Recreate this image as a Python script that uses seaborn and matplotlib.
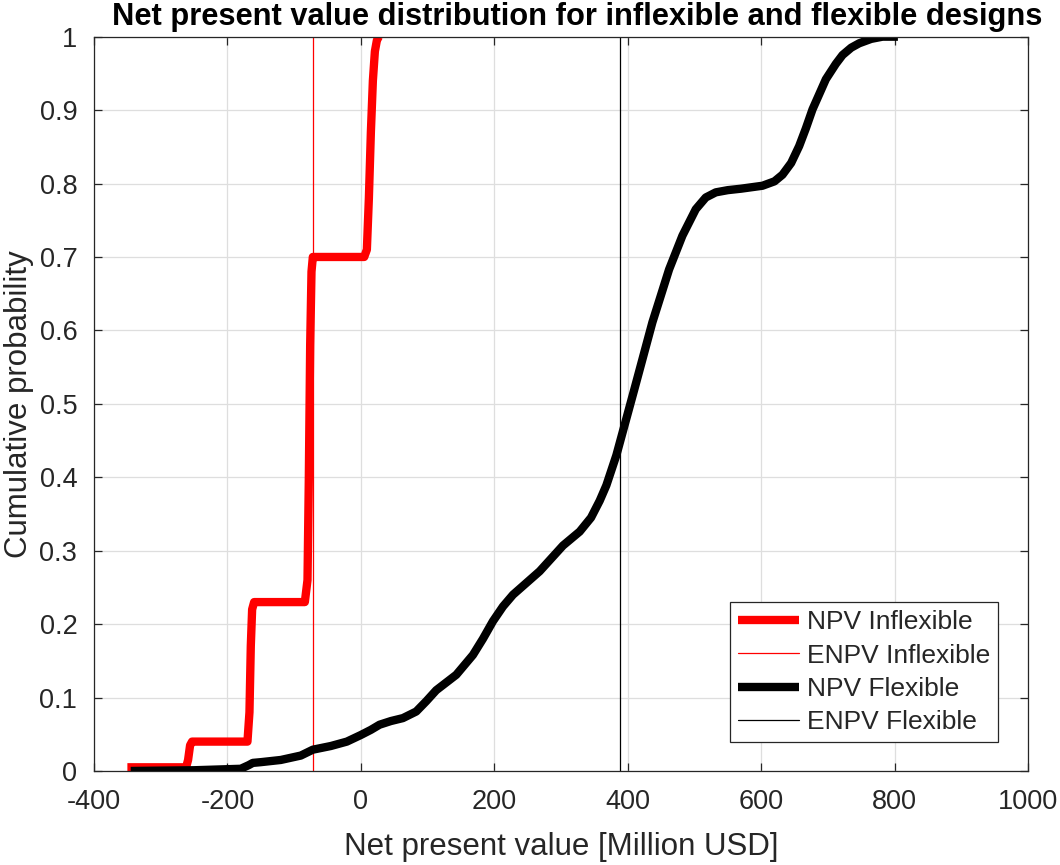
import numpy as np
import pandas as pd
import matplotlib
matplotlib.use("Agg")
import matplotlib.pyplot as plt
import seaborn as sns

# ---- data ----
npv_inflex_x = [-350, -262, -259, -256, -253, -170, -167, -165, -163, -160, -84, -80, -78, -76, -74, -72, -70,
                5, 9, 12, 15, 18, 21, 24, 27]
npv_inflex_y = [0.005, 0.005, 0.015, 0.035, 0.04, 0.04, 0.08, 0.17, 0.22, 0.23, 0.23, 0.26, 0.40, 0.58, 0.68, 0.70, 0.70,
                0.70, 0.71, 0.78, 0.87, 0.94, 0.98, 0.995, 1.0]
npv_flex_x = [-345, -250, -180, -168, -162, -150, -120, -90, -72, -45, -21, 0, 15, 28, 45, 63, 83, 98,
              113, 143, 168, 183, 198, 213, 228, 268, 303, 328, 345, 358, 368, 383, 410, 437, 462, 482,
              502, 517, 532, 550, 570, 602, 620, 632, 645, 657, 667, 677, 697, 712, 722, 735, 747, 765,
              782, 805]
npv_flex_y = [0.0, 0.001, 0.003, 0.008, 0.011, 0.012, 0.015, 0.021, 0.029, 0.034, 0.04, 0.049, 0.056,
              0.063, 0.068, 0.072, 0.081, 0.095, 0.11, 0.131, 0.158, 0.18, 0.204, 0.224, 0.24, 0.272,
              0.307, 0.326, 0.345, 0.368, 0.389, 0.43, 0.52, 0.611, 0.683, 0.729, 0.765, 0.781, 0.788,
              0.791, 0.793, 0.797, 0.803, 0.812, 0.828, 0.851, 0.875, 0.901, 0.942, 0.963, 0.975, 0.985,
              0.991, 0.997, 1.0, 1.0]
enpv_inflex = -72
enpv_flex = 389
x_ticks = [-400, -200, 0, 200, 400, 600, 800, 1000]
y_ticks = [0, 0.1, 0.2, 0.3, 0.4, 0.5, 0.6, 0.7, 0.8, 0.9, 1]
y_tick_labels = ["0", "0.1", "0.2", "0.3", "0.4", "0.5", "0.6", "0.7", "0.8", "0.9", "1"]
title_text = "Net present value distribution for inflexible and flexible designs"

sns.set_style("white")
plt.rcParams['font.family'] = ['Liberation Sans', 'DejaVu Sans']

fig = plt.figure(figsize=(10.6, 8.65), dpi=100)
ax = fig.add_axes([0.0887, 0.1087, 0.8811, 0.8489])

df_in = pd.DataFrame({"x": npv_inflex_x, "y": npv_inflex_y})
df_fl = pd.DataFrame({"x": npv_flex_x, "y": npv_flex_y})

sns.lineplot(data=df_in, x="x", y="y", sort=False, estimator=None, color="#ff0000",
             linewidth=6, ax=ax, label="NPV Inflexible", solid_capstyle="butt",
             solid_joinstyle="round")
ax.axvline(enpv_inflex, color="#ff0000", linewidth=0.9, label="ENPV Inflexible")
sns.lineplot(data=df_fl, x="x", y="y", sort=False, estimator=None, color="black",
             linewidth=6, ax=ax, label="NPV Flexible", solid_capstyle="butt",
             solid_joinstyle="round")
ax.axvline(enpv_flex, color="black", linewidth=0.9, label="ENPV Flexible")

ax.set_xlim(-400, 1000)
ax.set_ylim(0, 1)
ax.set_xticks(x_ticks)
ax.set_xticklabels([str(t) for t in x_ticks])
ax.set_yticks(y_ticks)
ax.set_yticklabels(y_tick_labels)
ax.grid(True, color="#dedede", linewidth=0.9)
ax.set_axisbelow(True)
for s in ax.spines.values():
    s.set_color("#262626")
    s.set_linewidth(0.9)
    s.set_visible(True)
ax.tick_params(direction="in", length=6, width=0.9, colors="#262626", labelsize=19.5,
               top=True, right=True, bottom=True, left=True)
ax.tick_params(axis="x", pad=13)
ax.tick_params(axis="y", pad=12)
ax.set_xlabel("Net present value [Million USD]", fontsize=22.5, color="#262626", labelpad=12)
ax.set_ylabel("Cumulative probability", fontsize=22.5, color="#262626", labelpad=4)
fig.text(577 / 1060, 1 - 17 / 865, title_text, ha="center", va="center",
         fontsize=22.2, fontweight="bold", color="black")

leg = ax.legend(loc="lower right", bbox_to_anchor=(0.968, 0.0395), fontsize=19,
                frameon=True, fancybox=False, edgecolor="#262626", framealpha=1,
                handlelength=2.3, labelspacing=0.35, borderpad=0.3, handletextpad=0.3,
                borderaxespad=0)
leg.get_frame().set_linewidth(0.9)

fig.savefig("out.png", dpi=100)
